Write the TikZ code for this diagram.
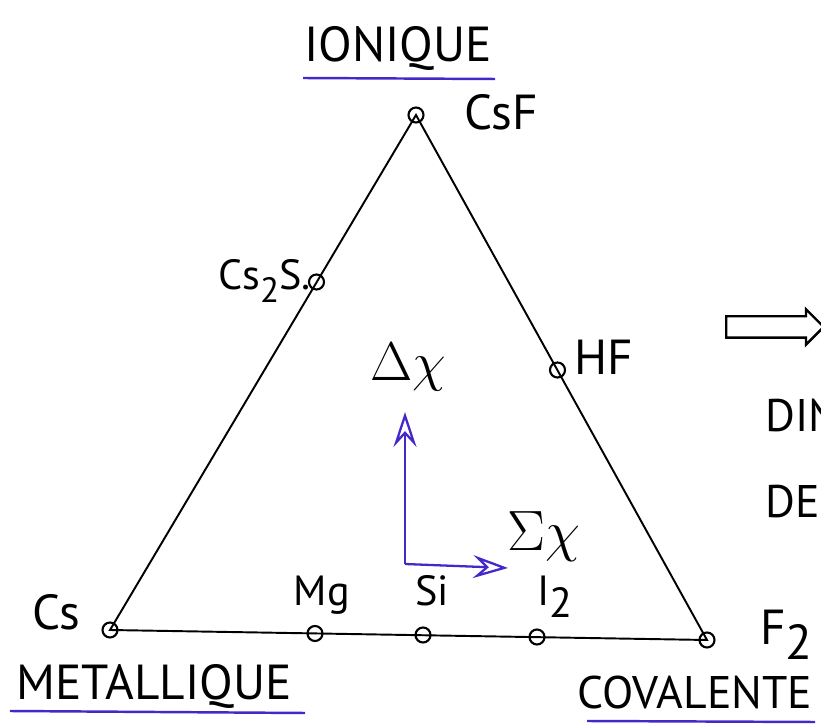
\documentclass[tikz,border=0pt]{standalone}
\usepackage{fontspec}
\setmainfont{PT Sans}
\usetikzlibrary{positioning, arrows.meta, shapes.arrows}

\definecolor{inkblue}{RGB}{70,40,200}

\begin{document}
\begin{tikzpicture}[
    x=1cm, y=1cm,
    pt/.style={
      circle, draw=black, line width=1.2pt, inner sep=0pt,
      minimum size=0.3cm,
    },
    compound/.style={font=\fontsize{28}{30}\selectfont, inner sep=0pt, anchor=base},
    small/.style={font=\fontsize{24}{26}\selectfont, inner sep=0pt, anchor=base},
    corner/.style={font=\fontsize{28}{30}\selectfont, inner sep=0pt, anchor=base},
    greek/.style={font=\fontsize{24}{26}\selectfont, inner sep=0pt, anchor=base},
    underline/.style={inkblue, line width=1.4pt},
    axis/.style={-{Stealth[length=7mm, width=4.6mm, inset=2.5mm, open]}, inkblue, line width=1.3pt},
]
\useasboundingbox (0,0) rectangle (16.42,-14.56);
\clip (0,0) rectangle (16.42,-14.56);

% Vertices and points on the edges
\node[pt] (csf)  at (8.32,-2.30)   {};
\node[pt] (cs)   at (2.20,-12.60)  {};
\node[pt] (f2)   at (14.14,-12.80) {};
\node[pt] (cs2s) at (6.33,-5.64)   {};
\node[pt] (hf)   at (11.15,-7.40)  {};
\node[pt] (mg)   at (6.30,-12.67)  {};
\node[pt] (si)   at (8.46,-12.70)  {};
\node[pt] (i2)   at (10.74,-12.74) {};

% Triangle
\draw[line width=1.1pt] (csf.center) -- (cs.center) -- (f2.center) -- cycle;

% Compound labels
\node[compound] (lcsf)  at (10.02,-2.60)  {CsF};
\node[small, anchor=base east] (lcs2s) at (6.22,-5.80) {Cs\raisebox{-0.3em}{\fontsize{20}{22}\selectfont 2}S.};
\node[compound] (lhf)   at (12.08,-7.50)  {HF};
\node[compound] (lcs)   at (1.12,-12.60)  {Cs};
\node[small]    (lmg)   at (6.44,-12.10)  {Mg};
\node[small]    (lsi)   at (8.64,-12.10)  {Si};
\node[small, anchor=base west] (li2) at (10.74,-12.10) {I\raisebox{-0.3em}{2}};
\node[compound, anchor=base west] (lf2) at (15.20,-12.90) {F\raisebox{-0.3em}{2}};

% Bond types at the corners
\node[corner] (ionic) at (7.96,-1.24)  {IONIQUE};
\node[corner] (metal) at (3.08,-14.00) {METALLIQUE};
\node[corner, font=\fontsize{26}{28}\selectfont] (coval) at (13.90,-14.16) {COVALENTE};
\draw[underline] (6.06,-1.56) -- (9.90,-1.58);
\draw[underline] (0.20,-14.22) -- (6.10,-14.26);
\draw[underline] (11.74,-14.42) -- (16.30,-14.44);

% Electronegativity axes
\coordinate (origin) at (8.10,-11.28);
\coordinate (ytip)   at (8.10,-8.24);
\coordinate (xtip)   at (10.16,-11.36);
\draw[axis] (origin) -- (ytip);
\draw[axis] (origin) -- (xtip);
\node[greek] (dchi) at (8.16,-7.62) {\scalebox{1.25}{$\Delta\chi$}};
\node[greek] (schi) at (10.88,-11.02) {\scalebox{1.3}{$\Sigma\chi$}};

% Cut-off text on the right
\node[single arrow, draw, line width=1.4pt, minimum height=1.95cm, minimum width=0.66cm,
      single arrow head extend=0.14cm, inner xsep=0pt, inner ysep=0.19cm, anchor=tail]
    (next) at (14.50,-6.54) {};
\node[corner, anchor=base west, font=\fontsize{26}{28}\selectfont] (dim) at (15.30,-8.64) {DIN};
\node[corner, anchor=base west, font=\fontsize{26}{28}\selectfont] (de)  at (15.30,-10.36) {DE};
\end{tikzpicture}
\end{document}
